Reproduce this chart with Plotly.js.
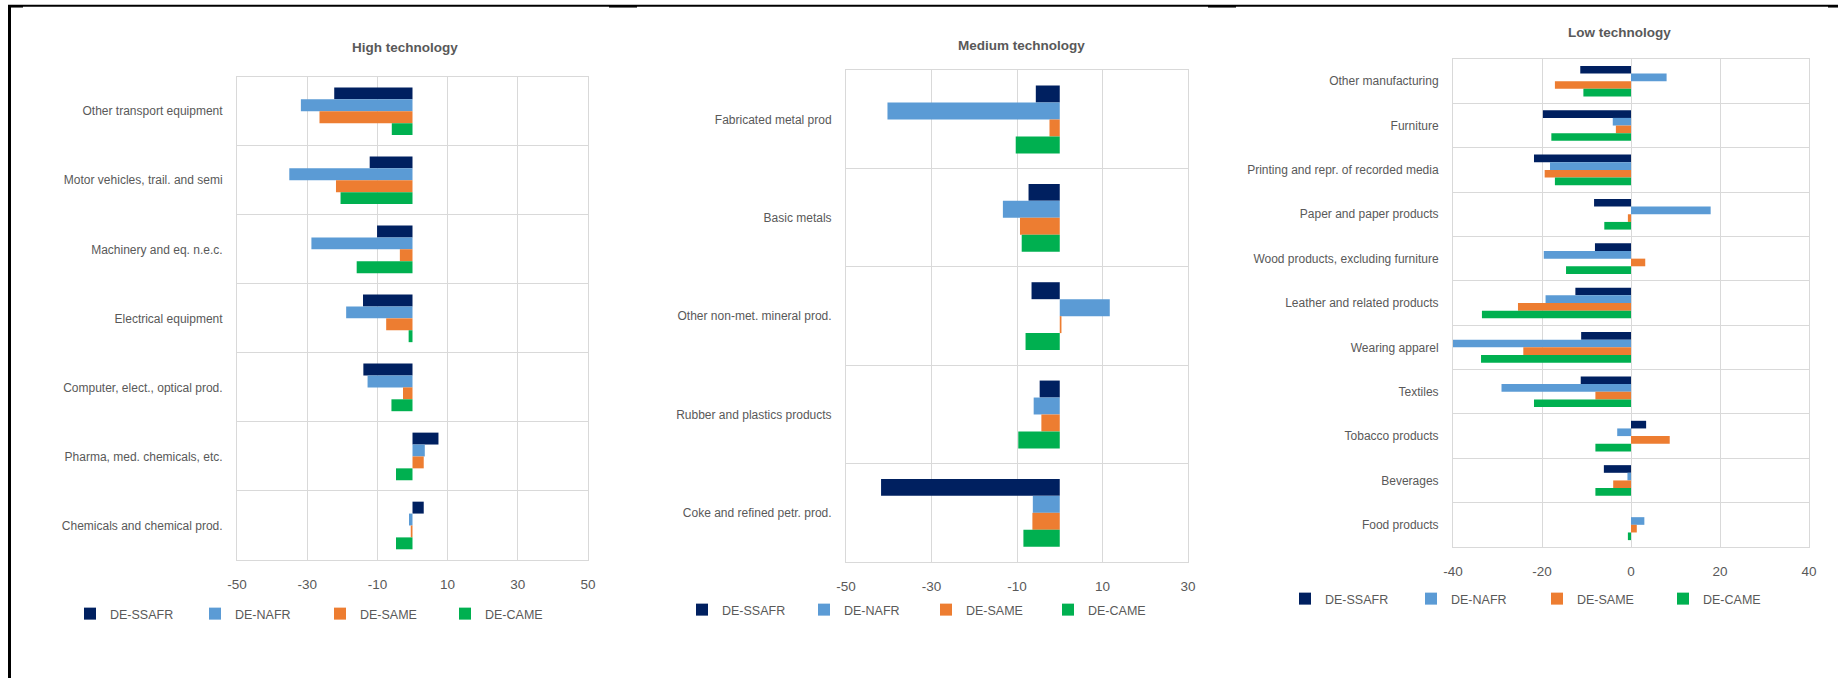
<!DOCTYPE html>
<html>
<head>
<meta charset="utf-8">
<script src="https://cdn.plot.ly/plotly-3.0.1.min.js"></script>
<style>html,body{margin:0;padding:0;background:#fff;}#chart{width:1838px;height:678px;}</style>
</head>
<body>
<div id="chart"></div>
<script>
// ---------- data ----------
const seriesNames = ['DE-SSAFR', 'DE-NAFR', 'DE-SAME', 'DE-CAME'];
const seriesColors = ['#002060', '#5B9BD5', '#ED7D31', '#00B050'];

const panelTitles = ['High technology', 'Medium technology', 'Low technology'];

const highCats = ['Other transport equipment', 'Motor vehicles, trail. and semi', 'Machinery and eq. n.e.c.', 'Electrical equipment', 'Computer, elect., optical prod.', 'Pharma, med. chemicals, etc.', 'Chemicals and chemical prod.'];
const highSSAFR = [-22.3, -12.2, -10.1, -14.1, -14.0, 7.4, 3.2];
const highNAFR  = [-31.8, -35.1, -28.8, -18.9, -12.8, 3.5, -1.0];
const highSAME  = [-26.5, -21.8, -3.6, -7.5, -2.7, 3.2, -0.5];
const highCAME  = [-5.9, -20.5, -15.9, -1.1, -6.0, -4.7, -4.7];

const medCats = ['Fabricated metal prod', 'Basic metals', 'Other non-met. mineral prod.', 'Rubber and plastics products', 'Coke and refined petr. prod.'];
const medSSAFR = [-5.6, -7.3, -6.6, -4.7, -41.8];
const medNAFR  = [-40.3, -13.3, 11.7, -6.1, -6.3];
const medSAME  = [-2.4, -9.3, 0.4, -4.3, -6.4];
const medCAME  = [-10.3, -8.9, -8.0, -9.7, -8.5];

const lowCats = ['Other manufacturing', 'Furniture', 'Printing and repr. of recorded media', 'Paper and paper products', 'Wood products, excluding furniture', 'Leather and related products', 'Wearing apparel', 'Textiles', 'Tobacco products', 'Beverages', 'Food products'];
const lowSSAFR = [-11.4, -19.8, -21.8, -8.3, -8.1, -12.5, -11.2, -11.3, 3.4, -6.1, 0];
const lowNAFR  = [8.0, -4.1, -18.2, 17.9, -19.6, -19.2, -40.2, -29.1, -3.1, -0.8, 3.0];
const lowSAME  = [-17.1, -3.4, -19.4, -0.7, 3.2, -25.4, -24.2, -8.0, 8.7, -4.0, 1.3];
const lowCAME  = [-10.7, -17.9, -17.1, -6.0, -14.6, -33.5, -33.7, -21.8, -8.0, -8.0, -0.7];

const highTicks = [-50, -30, -10, 10, 30, 50];
const highTickLabels = ['-50', '-30', '-10', '10', '30', '50'];
const medTicks = [-50, -30, -10, 10, 30];
const medTickLabels = ['-50', '-30', '-10', '10', '30'];
const lowTicks = [-40, -20, 0, 20, 40];
const lowTickLabels = ['-40', '-20', '0', '20', '40'];

// ---------- build ----------
const W = 1838, H = 678;
const px = v => v / W;
const py = v => 1 - v / H;
const FONT = '"Liberation Sans Narrow", "Arial Narrow", "Liberation Sans", Arial, sans-serif';
const TXT = '#595959';
const GRID = '#d9d9d9';

const panels = [
  {cats: highCats, vals: [highSSAFR, highNAFR, highSAME, highCAME], xa: 'x', ya: 'y', legend: 'legend'},
  {cats: medCats, vals: [medSSAFR, medNAFR, medSAME, medCAME], xa: 'x2', ya: 'y2', legend: 'legend2'},
  {cats: lowCats, vals: [lowSSAFR, lowNAFR, lowSAME, lowCAME], xa: 'x3', ya: 'y3', legend: 'legend3'}
];

const data = [];
panels.forEach(p => {
  seriesNames.forEach((name, i) => {
    data.push({
      type: 'bar', orientation: 'h', name: name,
      x: p.vals[i], y: p.cats,
      xaxis: p.xa, yaxis: p.ya, legend: p.legend,
      marker: {color: seriesColors[i], line: {width: 0}},
      hoverinfo: 'x+y+name'
    });
  });
});

function xAxis(domain, ticks, labels, anchor) {
  return {
    domain: domain, range: [ticks[0], ticks[ticks.length - 1]], anchor: anchor,
    tickmode: 'array', tickvals: ticks, ticktext: labels,
    showgrid: true, gridcolor: GRID, gridwidth: 1, zeroline: false,
    showline: true, linecolor: GRID, linewidth: 1, mirror: true,
    ticks: '', ticklabelstandoff: 12, fixedrange: true,
    tickfont: {family: FONT, size: 13.5, color: TXT}
  };
}
function yAxis(domain, anchor) {
  return {
    domain: domain, anchor: anchor, type: 'category', autorange: 'reversed',
    tickson: 'boundaries', showgrid: true, gridcolor: GRID, gridwidth: 1,
    showline: true, linecolor: GRID, linewidth: 1, mirror: true,
    ticks: '', ticklabelstandoff: 11, fixedrange: true,
    tickfont: {family: FONT, size: 12, color: TXT}
  };
}
function legendAt(xLeft, yCenter, ew) {
  return {
    orientation: 'h', x: px(xLeft), xanchor: 'left', y: py(yCenter), yanchor: 'middle',
    entrywidth: ew, entrywidthmode: 'pixels', itemclick: false, itemdoubleclick: false,
    font: {family: FONT, size: 12.5, color: TXT}, bgcolor: 'rgba(0,0,0,0)', traceorder: 'normal',
    tracegroupgap: 0, itemwidth: 30
  };
}

const titleFont = {family: FONT, size: 13.5, color: TXT, weight: 'bold'};

const layout = {
  width: W, height: H,
  margin: {l: 0, r: 0, t: 0, b: 0},
  paper_bgcolor: '#ffffff', plot_bgcolor: '#ffffff',
  barmode: 'group', bargap: 0.31, bargroupgap: 0,
  showlegend: true,
  font: {family: FONT, color: TXT},
  xaxis: xAxis([px(237), px(588)], highTicks, highTickLabels, 'y'),
  yaxis: yAxis([py(560), py(76.7)], 'x'),
  xaxis2: xAxis([px(846), px(1188)], medTicks, medTickLabels, 'y2'),
  yaxis2: yAxis([py(562), py(70.3)], 'x2'),
  xaxis3: xAxis([px(1453), px(1809)], lowTicks, lowTickLabels, 'y3'),
  yaxis3: yAxis([py(547), py(59)], 'x3'),
  legend: legendAt(70, 614, 80),
  legend2: legendAt(682, 610, 77),
  legend3: legendAt(1285, 599, 81),
  annotations: [
    {text: '<b>' + panelTitles[0] + '</b>', x: px(405), y: py(47), xref: 'paper', yref: 'paper', xanchor: 'center', yanchor: 'middle', showarrow: false, font: titleFont},
    {text: '<b>' + panelTitles[1] + '</b>', x: px(1021), y: py(46), xref: 'paper', yref: 'paper', xanchor: 'center', yanchor: 'middle', showarrow: false, font: titleFont},
    {text: '<b>' + panelTitles[2] + '</b>', x: px(1619), y: py(33), xref: 'paper', yref: 'paper', xanchor: 'center', yanchor: 'middle', showarrow: false, font: titleFont}
  ],
  shapes: [
    {type: 'line', xref: 'paper', yref: 'paper', x0: px(8), x1: 1, y0: py(5.7), y1: py(5.7), line: {color: '#000', width: 2}},
    {type: 'line', xref: 'paper', yref: 'paper', x0: px(9.5), x1: px(9.5), y0: py(5), y1: 0, line: {color: '#000', width: 3}},
    {type: 'line', xref: 'paper', yref: 'paper', x0: px(8), x1: px(23), y0: py(6.8), y1: py(6.8), line: {color: '#000', width: 1.5}},
    {type: 'line', xref: 'paper', yref: 'paper', x0: px(609), x1: px(637), y0: py(6.8), y1: py(6.8), line: {color: '#000', width: 1.5}},
    {type: 'line', xref: 'paper', yref: 'paper', x0: px(1208), x1: px(1236), y0: py(6.8), y1: py(6.8), line: {color: '#000', width: 1.5}},
    {type: 'line', xref: 'paper', yref: 'paper', x0: px(1828), x1: 1, y0: py(6.8), y1: py(6.8), line: {color: '#000', width: 1.5}}
  ]
};

Plotly.newPlot('chart', data, layout, {staticPlot: true, displayModeBar: false});
</script>
</body>
</html>
